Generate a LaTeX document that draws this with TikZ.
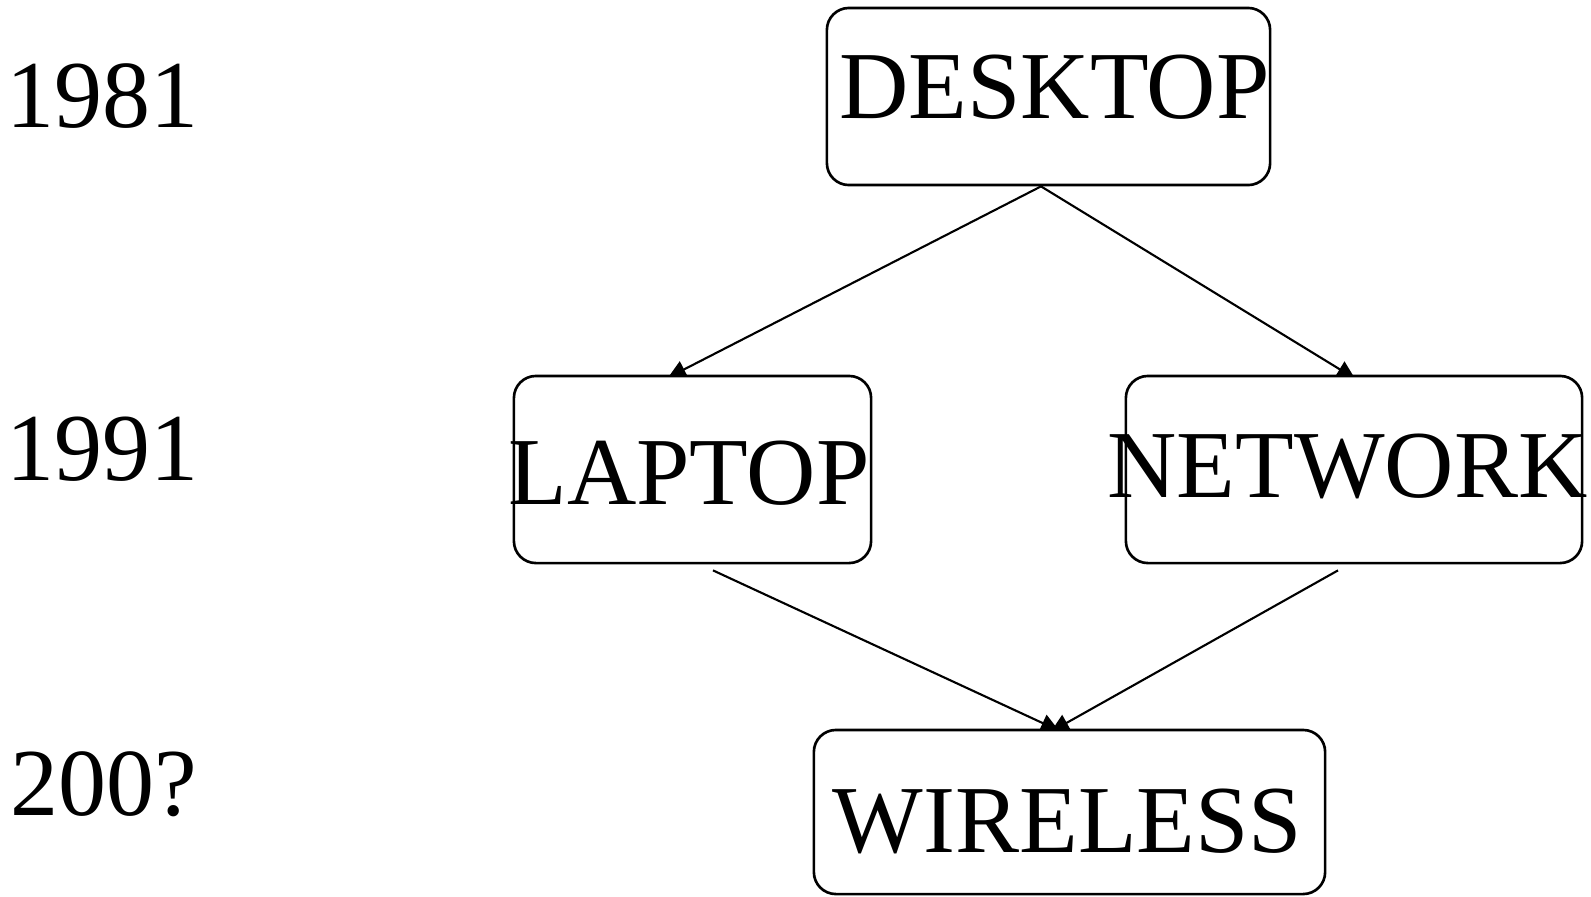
\documentclass[tikz,border=0pt]{standalone}
\usepackage{fontspec}
\setmainfont{Liberation Serif}
\usetikzlibrary{backgrounds,calc,arrows.meta}
\tikzset{
  era/.style={draw, line width=0.75pt, rounded corners=0.22cm, fill=white, inner sep=0pt},
  word/.style={inner sep=0pt, anchor=base, font=\fontsize{27.3}{32}\selectfont},
  conn/.style={line width=0.6pt, -{Triangle[length=0.18cm, width=0.18cm]}},
}
\begin{document}
\begin{tikzpicture}[x=0.01cm, y=-0.01cm]
  \useasboundingbox (0,0) rectangle (1591,896);

  % year column
  \node[word] (y1981) at (102.5,127) {1981};
  \node[word] (y1991) at (102.5,480) {1991};
  \node[word] (y200x) at (104,815) {200?};

  % boxes
  \node[era, minimum width=4.43cm, minimum height=1.77cm] (desk) at (1048.5,96.5) {};
  \node[era, minimum width=3.57cm, minimum height=1.87cm] (lap)  at (692.5,469.5) {};
  \node[era, minimum width=4.56cm, minimum height=1.87cm] (net)  at (1354,469.5) {};
  \node[era, minimum width=5.11cm, minimum height=1.64cm] (wire) at (1069.5,812) {};

  % box captions
  \node[word] (tdesk) at (1054.5,118) {DESKTOP};
  \node[word] (tlap)  at (689,504)    {LAPTOP};
  \node[word] (tnet)  at (1347.5,497) {NETWORK};
  \node[word] (twire) at (1067.5,852) {WIRELESS};

  % connectors run behind the boxes, so their tips are partly covered
  \begin{scope}[on background layer]
    \draw[conn] ($(desk.south)+(-7.5,0)$) -- ($(lap.north)+(-24.5,3)$);
    \draw[conn] ($(desk.south)+(-7.5,0)$) -- ($(net.north)+(1,4)$);
    \draw[conn] ($(lap.south)+(20.5,6)$) -- ($(wire.north)+(-10.5,2)$);
    \draw[conn] ($(net.south)+(-16,6)$) -- ($(wire.north)+(-18.5,3)$);
  \end{scope}
\end{tikzpicture}
\end{document}
